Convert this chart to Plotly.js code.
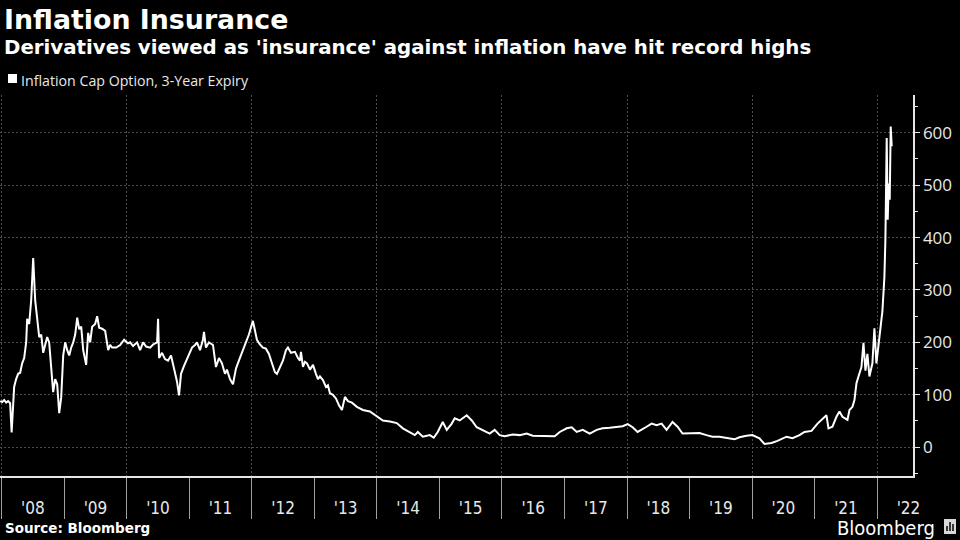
<!DOCTYPE html>
<html>
<head>
<meta charset="utf-8">
<script src="https://cdn.plot.ly/plotly-3.0.1.min.js"></script>
<style>
html, body { margin: 0; padding: 0; background: #000; }
#chart { width: 960px; height: 540px; }
</style>
</head>
<body>
<div id="chart"></div>
<script>
// ---- Data ----
const chartTitle = "Inflation Insurance";
const chartSubtitle = "Derivatives viewed as 'insurance' against inflation have hit record highs";
const seriesName = "Inflation Cap Option, 3-Year Expiry";
const sourceText = "Source: Bloomberg";
const brandText = "Bloomberg";

// Observation times as decimal years
const decimalYears = [
  2007.978,2008.010,2008.042,2008.074,2008.105,2008.137,2008.161,2008.185,2008.201,2008.233,
  2008.265,2008.297,2008.329,2008.361,2008.393,2008.409,2008.441,2008.473,2008.505,2008.537,
  2008.569,2008.601,2008.633,2008.665,2008.696,2008.728,2008.760,2008.792,2008.824,2008.856,
  2008.888,2008.920,2008.952,2008.984,2009.016,2009.048,2009.080,2009.112,2009.144,2009.176,
  2009.208,2009.240,2009.272,2009.304,2009.351,2009.383,2009.415,2009.447,2009.495,2009.527,
  2009.559,2009.607,2009.655,2009.703,2009.735,2009.767,2009.831,2009.895,2009.958,2010.022,
  2010.054,2010.102,2010.166,2010.214,2010.262,2010.310,2010.374,2010.422,2010.486,2010.502,
  2010.518,2010.565,2010.613,2010.661,2010.709,2010.757,2010.805,2010.837,2010.869,2010.917,
  2010.965,2011.013,2011.045,2011.093,2011.125,2011.173,2011.220,2011.236,2011.268,2011.316,
  2011.380,2011.428,2011.476,2011.524,2011.572,2011.604,2011.652,2011.700,2011.748,2011.795,
  2011.859,2011.907,2011.955,2012.019,2012.051,2012.083,2012.131,2012.179,2012.227,2012.275,
  2012.323,2012.371,2012.403,2012.450,2012.498,2012.546,2012.578,2012.626,2012.690,2012.738,
  2012.770,2012.786,2012.818,2012.850,2012.882,2012.930,2012.978,2013.025,2013.057,
  2013.089,2013.137,2013.185,2013.217,2013.249,2013.297,2013.345,2013.393,2013.441,2013.489,
  2013.537,2013.601,2013.680,2013.776,2013.888,2014.000,2014.096,2014.208,2014.319,2014.415,
  2014.527,2014.607,2014.655,2014.735,2014.847,2014.910,2014.974,2015.054,2015.118,2015.198,
  2015.246,2015.326,2015.438,2015.518,2015.597,2015.693,2015.805,2015.885,2015.965,2016.045,
  2016.173,2016.284,2016.396,2016.492,2016.604,2016.732,2016.843,2016.923,2017.035,2017.115,
  2017.195,2017.291,2017.403,2017.514,2017.610,2017.722,2017.834,2017.930,2018.010,2018.089,
  2018.169,
  2018.201,2018.313,2018.393,2018.473,2018.553,2018.633,2018.728,2018.808,2018.888,2019.000,
  2019.160,2019.271,2019.367,2019.479,2019.591,2019.719,2019.799,2019.911,2020.006,2020.118,
  2020.198,2020.310,2020.406,2020.550,2020.645,2020.757,2020.837,2020.949,2021.045,2021.125,
  2021.188,2021.220,2021.284,2021.348,2021.396,2021.444,2021.524,2021.556,2021.604,2021.636,
  2021.668,2021.700,2021.748,2021.780,2021.812,2021.843,2021.875,2021.923,2021.955,2021.987,
  2022.019,2022.067,2022.083,2022.115,2022.131,2022.142,2022.152,2022.168,2022.184,2022.200,
  2022.216,2022.232
];

// Option price (basis points)
const capValues = [
  88,86,90,85,88,84,28,75,115,130,
  140,142,160,170,200,245,235,280,361,280,
  250,210,215,180,195,210,200,150,105,130,
  120,65,95,175,200,185,175,190,200,215,
  247,225,230,185,157,218,200,230,235,250,
  228,226,222,185,195,190,190,195,205,198,
  200,193,200,185,200,192,190,196,200,245,
  170,180,168,165,175,150,125,99,140,155,
  168,180,190,195,200,185,205,220,190,200,
  195,153,170,160,140,148,130,120,150,165,
  185,200,215,241,220,205,196,190,188,178,
  160,143,140,153,165,185,190,180,182,170,
  165,182,153,163,160,148,157,140,130,
  135,128,115,118,103,100,93,80,71,96,
  88,85,77,71,68,58,51,49,46,36,
  29,23,29,20,23,18,29,48,33,45,
  55,51,61,51,38,33,26,33,23,21,
  24,23,26,22,22,21,21,29,36,38,
  29,33,26,33,36,37,38,40,44,38,
  29,
  31,39,45,42,45,33,48,39,26,26,
  27,23,20,20,17,15,19,22,23,17,
  6,8,12,20,17,23,29,31,45,55,
  61,36,39,58,68,58,52,71,77,90,
  122,135,153,199,146,178,135,160,227,160,
  199,243,259,325,396,491,590,434,503,472,
  612,574
];

const xRange = ['2007-12-23', '2022-07-29'];
const yRange = [-55, 672];
const yTickStep = 100;

// ---- Build ----
function decYearToISO(f) {
  const y = Math.floor(f);
  const s = Date.UTC(y, 0, 1), e = Date.UTC(y + 1, 0, 1);
  return new Date(s + (f - y) * (e - s)).toISOString().slice(0, 19).replace('T', ' ');
}
const dates = decimalYears.map(decYearToISO);

const W = 960, H = 540;
const plotTop = 95, plotBottom = 476;
const plotH = plotBottom - plotTop;
const px = v => v / W;
const py = v => (plotBottom - v) / plotH;

const gridColor = '#4d4d4d';
const textColor = '#e8e8e8';

const trace = {
  type: 'scatter',
  mode: 'lines',
  x: dates,
  y: capValues,
  name: seriesName,
  line: { color: '#ffffff', width: 2 },
  hoverinfo: 'skip',
  showlegend: false
};

// empty trace so the gridline-only overlay axis is drawn
const gridCarrier = {
  type: 'scatter', mode: 'lines', x: [], y: [],
  xaxis: 'x2', yaxis: 'y', hoverinfo: 'skip', showlegend: false
};

const layout = {
  width: W, height: H,
  paper_bgcolor: '#000000',
  plot_bgcolor: '#000000',
  margin: { l: 0, r: 0, t: plotTop, b: H - plotBottom, pad: 0 },
  showlegend: false,
  xaxis: {
    type: 'date',
    domain: [0, 913 / W],
    range: xRange,
    tick0: '2008-01-01',
    dtick: 'M12',
    ticklabelmode: 'period',
    tickformat: "'%y",
    ticks: 'outside',
    ticklen: 41,
    tickwidth: 1,
    tickcolor: '#a0a0a0',
    ticklabelstandoff: -25,
    showline: true,
    linecolor: '#e6e6e6',
    linewidth: 1.5,
    showgrid: false,
    zeroline: false,
    tickfont: { family: 'Liberation Sans Narrow, DejaVu Sans Condensed, sans-serif', size: 17, color: textColor },
    fixedrange: true
  },
  xaxis2: {
    type: 'date',
    overlaying: 'x',
    matches: 'x',
    anchor: 'y',
    domain: [0, 913 / W],
    range: xRange,
    tick0: '2008-01-01',
    dtick: 'M24',
    showgrid: true,
    gridcolor: gridColor,
    gridwidth: 1,
    griddash: '2px,2px',
    showticklabels: false,
    ticks: '',
    showline: false,
    zeroline: false
  },
  yaxis: {
    side: 'right',
    range: yRange,
    tick0: 0,
    dtick: yTickStep,
    showgrid: true,
    gridcolor: gridColor,
    gridwidth: 1,
    griddash: '2px,2px',
    zeroline: false,
    showline: true,
    linecolor: '#e6e6e6',
    linewidth: 1.5,
    ticks: 'outside',
    ticklen: 5,
    tickcolor: '#e6e6e6',
    minor: { dtick: 50, tick0: 0, ticks: 'outside', ticklen: 3, tickcolor: '#e6e6e6', showgrid: false },
    tickfont: { family: 'Open Sans, sans-serif', size: 17, color: textColor },
    fixedrange: true
  },
  annotations: [
    { text: '<b>' + chartTitle + '</b>', xref: 'paper', yref: 'paper', x: px(2), y: py(20),
      xanchor: 'left', yanchor: 'middle', showarrow: false,
      font: { family: 'DejaVu Sans, sans-serif', size: 26.8, color: '#ffffff' } },
    { text: '<b>' + chartSubtitle + '</b>', xref: 'paper', yref: 'paper', x: px(2), y: py(47),
      xanchor: 'left', yanchor: 'middle', showarrow: false,
      font: { family: 'DejaVu Sans, sans-serif', size: 19.8, color: '#ffffff' } },
    { text: seriesName, xref: 'paper', yref: 'paper', x: px(19), y: py(80),
      xanchor: 'left', yanchor: 'middle', showarrow: false,
      font: { family: 'Open Sans, sans-serif', size: 14.2, color: textColor } },
    { text: '<b>' + sourceText + '</b>', xref: 'paper', yref: 'paper', x: px(3), y: py(528),
      xanchor: 'left', yanchor: 'middle', showarrow: false,
      font: { family: 'DejaVu Sans, sans-serif', size: 13.5, color: '#ffffff' } },
    { text: brandText, xref: 'paper', yref: 'paper', x: px(937), y: py(528),
      xanchor: 'right', yanchor: 'middle', showarrow: false,
      font: { family: 'Liberation Sans Narrow, DejaVu Sans Condensed, sans-serif', size: 20, color: '#ffffff' } }
  ],
  shapes: [
    // legend swatch
    { type: 'rect', xref: 'paper', yref: 'paper', x0: px(8), x1: px(17), y0: py(83), y1: py(74),
      fillcolor: '#ffffff', line: { width: 0 } },
    // brand icon
    { type: 'rect', xref: 'paper', yref: 'paper', x0: px(944), x1: px(956), y0: py(534), y1: py(519),
      fillcolor: '#d8d8d8', line: { width: 0 } },
    { type: 'line', xref: 'paper', yref: 'paper', x0: px(947), x1: px(947), y0: py(531), y1: py(526),
      line: { color: '#000', width: 1.5 } },
    { type: 'line', xref: 'paper', yref: 'paper', x0: px(950), x1: px(950), y0: py(531), y1: py(522),
      line: { color: '#000', width: 1.5 } },
    { type: 'line', xref: 'paper', yref: 'paper', x0: px(953), x1: px(953), y0: py(531), y1: py(524),
      line: { color: '#000', width: 1.5 } }
  ]
};

Plotly.newPlot('chart', [trace, gridCarrier], layout, { staticPlot: true, displayModeBar: false });
</script>
</body>
</html>
